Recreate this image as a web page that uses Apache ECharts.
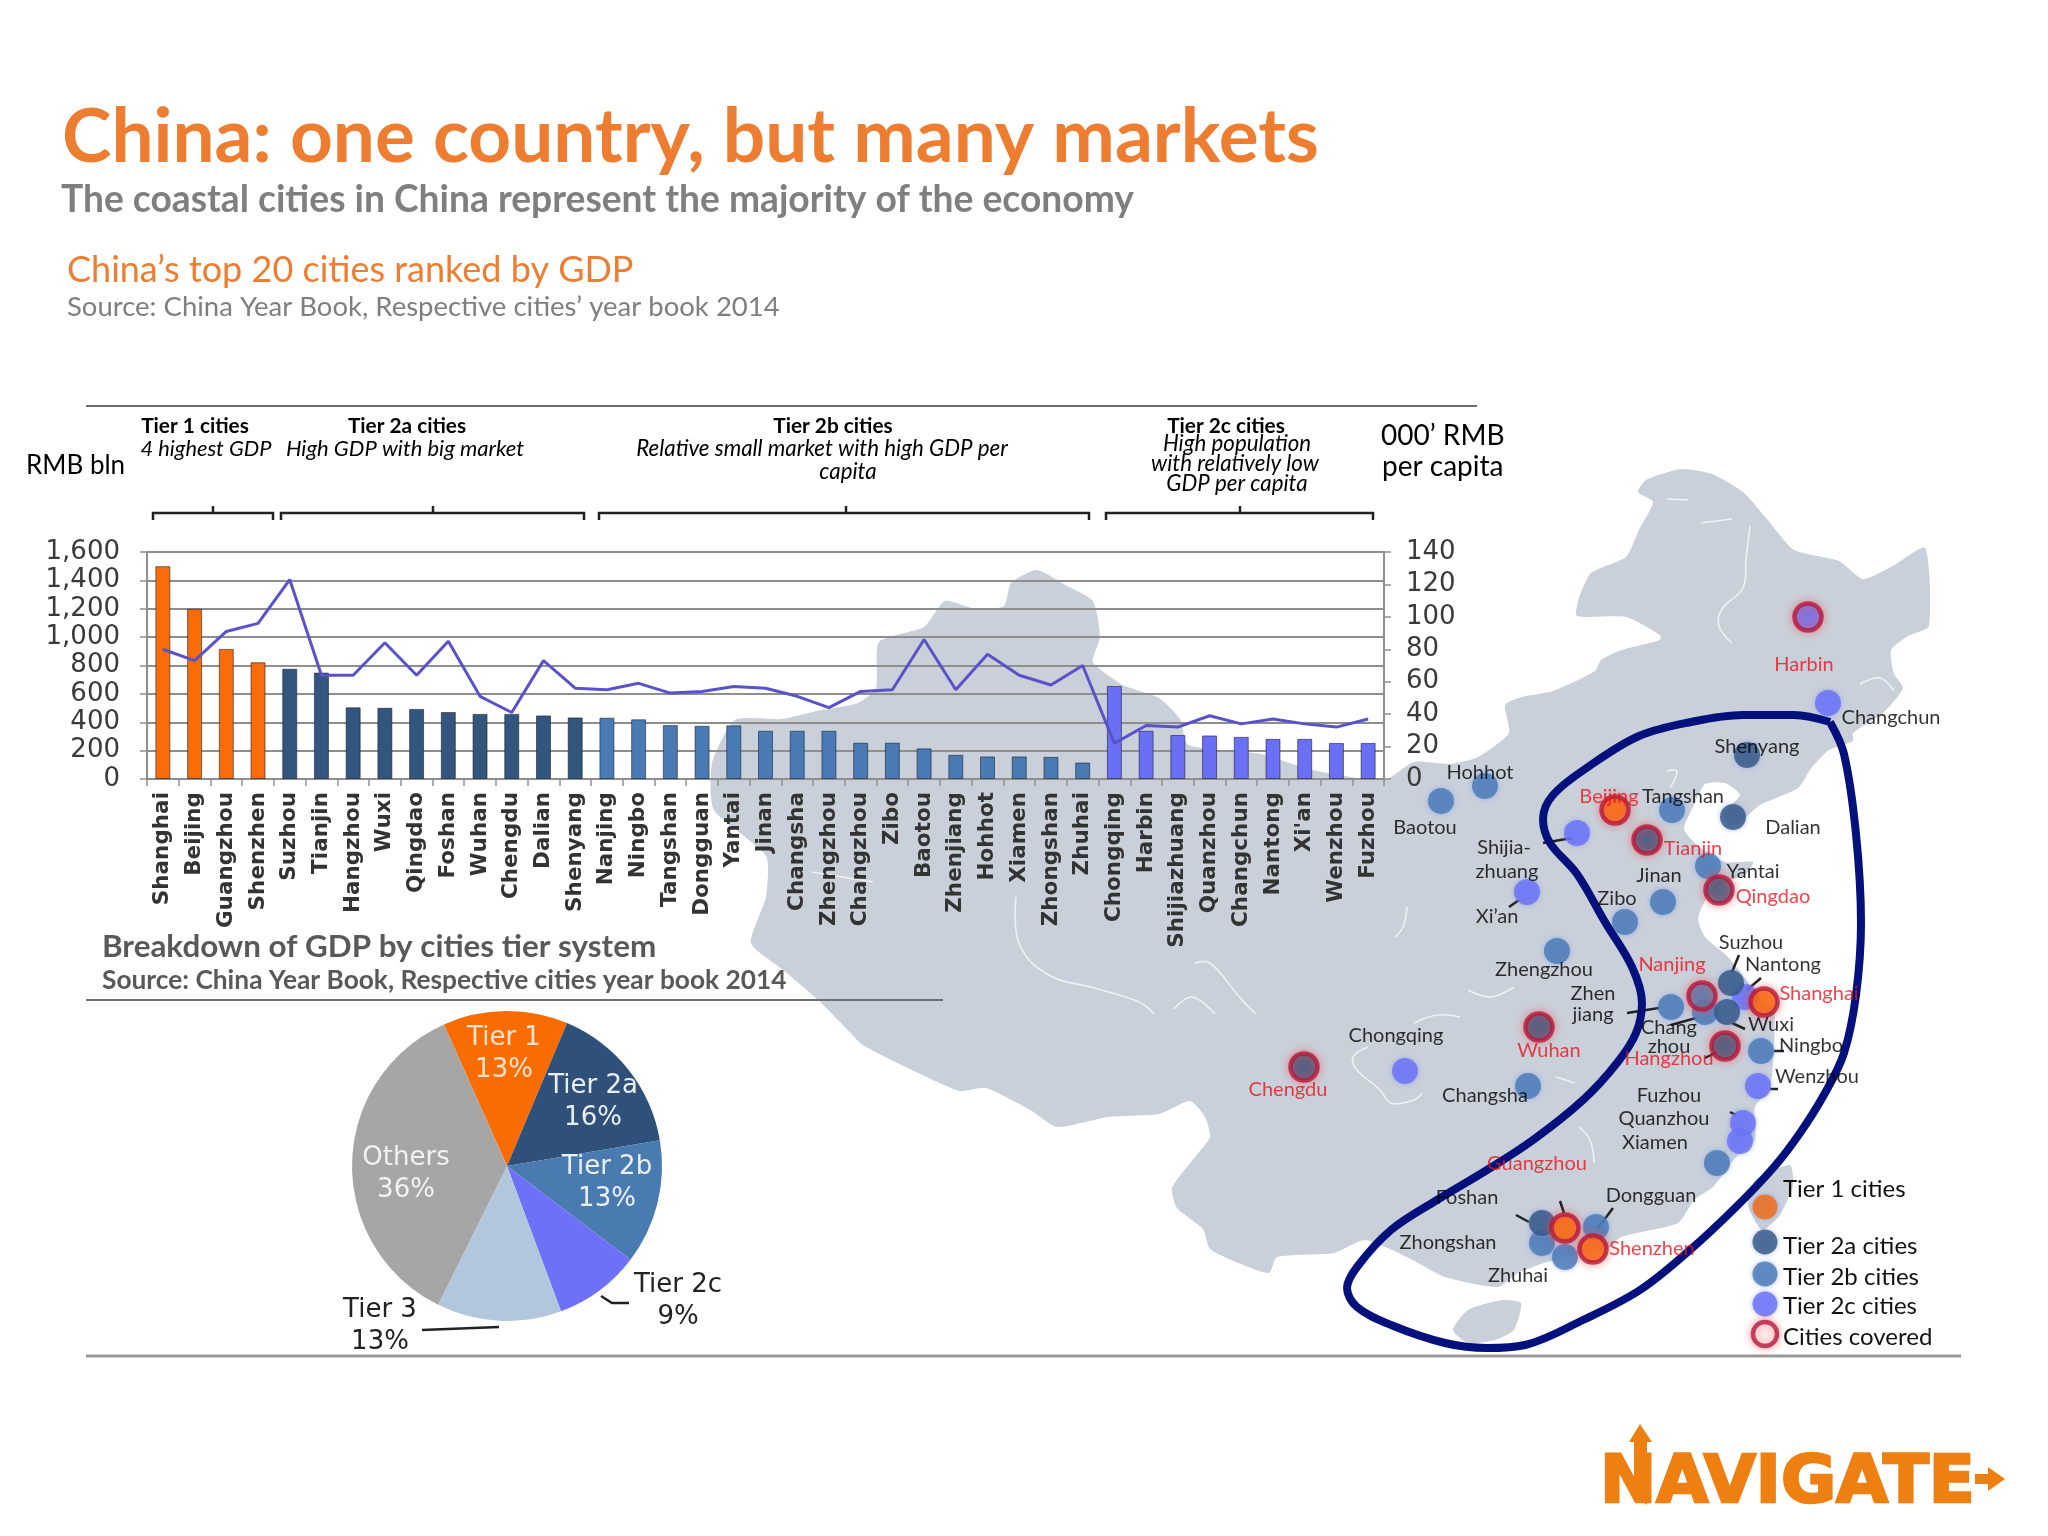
<!DOCTYPE html>
<html>
<head>
<meta charset="utf-8">
<title>China: one country, but many markets</title>
<script src="https://cdn.jsdelivr.net/npm/echarts@6/dist/echarts.min.js"></script>
<style>
  html, body { margin: 0; padding: 0; background: #fff; }
  #chart-container { width: 2048px; height: 1536px; }
</style>
</head>
<body>
<div id="chart-container"></div>
<script>
// Bar + line chart
const cities = ["Shanghai","Beijing","Guangzhou","Shenzhen","Suzhou","Tianjin","Hangzhou","Wuxi","Qingdao","Foshan","Wuhan","Chengdu","Dalian","Shenyang","Nanjing","Ningbo","Tangshan","Dongguan","Yantai","Jinan","Changsha","Zhengzhou","Changzhou","Zibo","Baotou","Zhenjiang","Hohhot","Xiamen","Zhongshan","Zhuhai","Chongqing","Harbin","Shijiazhuang","Quanzhou","Changchun","Nantong","Xi'an","Wenzhou","Fuzhou"];
const gdp = [1500,1200,917,823,777,750,505,502,494,472,459,459,448,434,432,421,380,375,378,340,340,340,256,256,216,170,159,159,156,116,656,340,310,307,297,283,283,254,254];
const gdpPerCapita = [80,73,91,96,123,64,64,84,64,85,51,41,73,56,55,59,53,54,57,56,51,44,54,55,86,55,77,64,58,70,22,33,32,39,34,37,34,32,37];
const barTiers = ["1","1","1","1","2a","2a","2a","2a","2a","2a","2a","2a","2a","2a","2b","2b","2b","2b","2b","2b","2b","2b","2b","2b","2b","2b","2b","2b","2b","2b","2c","2c","2c","2c","2c","2c","2c","2c","2c"];

// Pie chart
const pieNames = ["Tier 1","Tier 2a","Tier 2b","Tier 2c","Tier 3","Others"];
const pieValues = [13,16,13,9,13,36];
const pieColors = ["#f96c02","#2f5079","#4a7bb0","#6e70f8","#b2c6de","#a6a6a6"];
const pieLabelColors = ["#fbe3d0","#e8eef5","#e8f0f8","#222","#222","#f2f2f2"];
const pieLabelPos = [[504,1054],[593,1102],[607,1183],[678,1301],[380,1326],[406,1174]];

const tierColors = { "1": "#f96c08", "2a": "#33567f", "2b": "#4a7ab3", "2c": "#6a70f6" };

// Map cities: name, tier, covered, map x, map y
const mapCities = [
  ["Harbin","2c",1,1808,617],["Changchun","2c",0,1828,703],["Shenyang","2a",0,1747,755],
  ["Hohhot","2b",0,1485,786],["Baotou","2b",0,1441,801],["Beijing","1",1,1615,810],
  ["Tangshan","2b",0,1672,810],["Dalian","2a",0,1733,817],["Shijiazhuang","2c",0,1577,833],
  ["Tianjin","2a",1,1647,840],["Yantai","2b",0,1708,866],["Qingdao","2a",1,1719,890],
  ["Jinan","2b",0,1663,902],["Xi'an","2c",0,1527,892],["Zibo","2b",0,1625,922],
  ["Zhengzhou","2b",0,1557,951],["Nantong","2c",0,1745,997],["Suzhou","2a",0,1731,983],
  ["Changzhou","2b",0,1705,1012],["Nanjing","2b",1,1702,996],["Zhenjiang","2b",0,1671,1007],
  ["Wuxi","2a",0,1727,1012],["Shanghai","1",1,1764,1002],["Hangzhou","2a",1,1725,1046],
  ["Ningbo","2b",0,1761,1051],["Wenzhou","2c",0,1758,1086],["Quanzhou","2c",0,1740,1141],
  ["Fuzhou","2c",0,1743,1123],["Xiamen","2b",0,1717,1163],["Wuhan","2a",1,1539,1027],
  ["Chengdu","2a",1,1304,1067],["Chongqing","2c",0,1405,1071],["Changsha","2b",0,1528,1086],
  ["Zhongshan","2b",0,1542,1243],["Foshan","2a",0,1542,1223],["Dongguan","2b",0,1596,1227],
  ["Zhuhai","2b",0,1565,1257],["Guangzhou","1",1,1565,1228],["Shenzhen","1",1,1593,1249]
];

// Map labels: text, x, y, colour
const mapLabels = [
  ["Harbin",1804,665,"#e8141c"],["Changchun",1891,718,"#000"],["Shenyang",1757,747,"#000"],
  ["Hohhot",1480,773,"#000"],["Baotou",1425,828,"#000"],["Beijing",1609,797,"#e8141c"],
  ["Tangshan",1683,797,"#000"],["Dalian",1793,828,"#000"],["Shijia-",1504,848,"#000"],
  ["zhuang",1507,872,"#000"],["Tianjin",1693,849,"#e8141c"],["Yantai",1753,872,"#000"],
  ["Jinan",1659,876,"#000"],["Qingdao",1773,897,"#e8141c"],["Zibo",1617,899,"#000"],
  ["Xi\u2019an",1497,917,"#000"],["Suzhou",1751,943,"#000"],["Nantong",1783,965,"#000"],
  ["Nanjing",1672,965,"#e8141c"],["Zhengzhou",1544,970,"#000"],["Shanghai",1819,994,"#e8141c"],
  ["Zhen",1593,994,"#000"],["jiang",1593,1015,"#000"],["Chang",1669,1028,"#000"],
  ["zhou",1669,1047,"#000"],["Wuxi",1771,1025,"#000"],["Ningbo",1811,1046,"#000"],
  ["Hangzhou",1669,1059,"#e8141c"],["Wuhan",1549,1051,"#e8141c"],["Chongqing",1396,1036,"#000"],
  ["Wenzhou",1817,1077,"#000"],["Chengdu",1288,1090,"#e8141c"],["Changsha",1485,1096,"#000"],
  ["Fuzhou",1669,1096,"#000"],["Quanzhou",1664,1119,"#000"],["Xiamen",1655,1143,"#000"],
  ["Guangzhou",1537,1164,"#e8141c"],["Foshan",1467,1198,"#000"],["Dongguan",1651,1196,"#000"],
  ["Zhongshan",1448,1243,"#000"],["Shenzhen",1652,1249,"#e8141c"],["Zhuhai",1518,1276,"#000"]
];

// Legend of the map: text, dot x, dot y, label y, tier
const legendRows = [
  ["Tier 1 cities",1765,1207,1189,"1"],["Tier 2a cities",1765,1242,1246,"2a"],
  ["Tier 2b cities",1765,1274,1277,"2b"],["Tier 2c cities",1765,1304,1306,"2c"],
  ["Cities covered",1765,1334,1337,"covered"]
];

// China outline
const chinaOutline = [[1037,570],[1067,586],[1093,601],[1100,637],[1093,662],[1123,685],[1159,698],[1180,719],[1187,744],[1210,749],[1261,754],[1312,770],[1384,780],[1414,762],[1450,764],[1478,757],[1509,733],[1505,705],[1522,697],[1553,691],[1595,671],[1601,660],[1622,650],[1660,640],[1660,635],[1626,617],[1577,616],[1579,598],[1591,573],[1626,557],[1639,530],[1653,502],[1638,492],[1646,480],[1681,469],[1712,474],[1743,492],[1767,519],[1794,550],[1839,561],[1863,579],[1891,567],[1925,548],[1929,626],[1908,636],[1891,650],[1894,674],[1903,688],[1884,712],[1853,733],[1853,741],[1829,750],[1812,767],[1798,788],[1760,805],[1745,818],[1733,825],[1722,815],[1740,795],[1725,783],[1705,784],[1694,805],[1684,829],[1698,846],[1725,862],[1753,862],[1746,874],[1722,884],[1705,901],[1698,919],[1705,937],[1728,957],[1750,985],[1764,1002],[1774,1007],[1774,1047],[1770,1087],[1755,1107],[1755,1140],[1736,1157],[1713,1187],[1694,1200],[1678,1223],[1621,1237],[1606,1250],[1583,1253],[1544,1263],[1518,1273],[1498,1287],[1445,1277],[1407,1257],[1365,1240],[1334,1253],[1277,1257],[1269,1273],[1241,1264],[1210,1249],[1203,1229],[1177,1208],[1172,1188],[1195,1157],[1210,1137],[1205,1117],[1190,1101],[1159,1114],[1108,1117],[1057,1127],[1032,1111],[986,1088],[960,1091],[914,1071],[863,1045],[843,1025],[817,999],[782,969],[751,943],[766,897],[766,856],[714,810],[712,763],[735,720],[782,719],[817,711],[858,703],[876,688],[879,642],[924,627],[945,601],[976,609],[1004,606],[1011,583]];
const hainanOutline = [[1453,1330],[1468,1310],[1502,1300],[1521,1303],[1514,1330],[1495,1340],[1468,1343]];
const taiwanOutline = [[1790,1165],[1793,1185],[1780,1215],[1762,1230],[1748,1205],[1755,1180]];

const rivers = [
  [[1016,897],[1019,943],[1047,974],[1098,989],[1139,1002],[1154,1014]],
  [[812,872],[873,882]],
  [[1195,963],[1210,963],[1241,999],[1256,1014]],
  [[1174,1009],[1192,997],[1215,1014]],
  [[1368,1047],[1353,1057],[1357,1070],[1380,1090],[1391,1103],[1414,1100],[1422,1093]],
  [[1407,907],[1403,927],[1395,937]],
  [[1468,990],[1491,997],[1514,987]],
  [[1414,1023],[1437,1015],[1460,1017]],
  [[1579,1127],[1590,1140],[1594,1163]],
  [[1556,1077],[1575,1083]],
  [[1750,526],[1746,560],[1743,588],[1722,609],[1719,626],[1732,643]],
  [[1667,499],[1688,500]],
  [[1701,523],[1732,519]],
  [[1860,684],[1880,678],[1894,691]],
  [[1667,771],[1677,771],[1670,788]]
];

// The navy loop around the coastal cities
const coastalLoop = [[1830,722],[1794,715],[1743,715],[1691,722],[1639,736],[1588,767],[1553,795],[1543,819],[1550,843],[1577,874],[1605,922],[1632,967],[1642,1003],[1636,1033],[1617,1063],[1583,1100],[1533,1140],[1487,1170],[1437,1200],[1391,1230],[1357,1267],[1347,1288],[1357,1307],[1391,1325],[1445,1343],[1487,1348],[1525,1345],[1583,1320],[1640,1290],[1690,1250],[1736,1207],[1774,1167],[1800,1133],[1825,1093],[1844,1053],[1856,995],[1861,923],[1856,834],[1844,754],[1830,722]];

const leaderLines = [
  [[1543,843],[1572,838]],[[1509,907],[1519,900]],[[1739,955],[1732,972]],[[1761,978],[1747,990]],
  [[1627,1013],[1659,1008]],[[1671,1025],[1696,1018]],[[1732,1023],[1745,1029]],[[1705,1058],[1717,1052]],
  [[1774,1051],[1784,1051]],[[1770,1089],[1778,1089]],[[1730,1112],[1736,1115]],[[1516,1215],[1529,1222]],
  [[1560,1201],[1564,1213]],[[1613,1208],[1598,1228]],
  // pie leaders
  [[601,1296],[612,1303],[629,1303]],[[422,1330],[499,1327]]
];

// Tier brackets above the bars: left, right, middle
const brackets = [[153,273,213],[281,584,433],[599,1089,846],[1106,1373,1240]];

const rules = [
  [[86,406],[1477,406],"#6f6f6f",2],
  [[86,1000],[943,1000],"#6a7078",2],
  [[86,1356],[1961,1356],"#9a9a9a",3]
];

// Text: text, x, y, size, weight, style, colour, align
const textBlocks = [
  ["China: one country, but many markets",62,138,74.7,"bold","normal","#ed7d31","left"],
  ["The coastal cities in China represent the majority of the economy",61,200,37.2,"bold","normal","#7f7f7f","left"],
  ["China\u2019s top 20 cities ranked by GDP",67,270,36,"normal","normal","#ed7d31","left"],
  ["Source: China Year Book, Respective cities\u2019 year book 2014",67,307,27.5,"normal","normal","#7f7f7f","left"],
  ["Tier 1 cities",195,426,20.8,"bold","normal","#000","center"],
  ["4 highest GDP",206,449,21.8,"normal","italic","#000","center"],
  ["Tier 2a cities",407,426,20.8,"bold","normal","#000","center"],
  ["High GDP with big market",405,449,22,"normal","italic","#000","center"],
  ["Tier 2b cities",833,426,20.8,"bold","normal","#000","center"],
  ["Relative small market with high GDP per",822,449,22.3,"normal","italic","#000","center"],
  ["capita",848,472,22.3,"normal","italic","#000","center"],
  ["Tier 2c cities",1226,426,20.8,"bold","normal","#000","center"],
  ["High population",1237,444,22.3,"normal","italic","#000","center"],
  ["with relatively low",1235,464,22.3,"normal","italic","#000","center"],
  ["GDP per capita",1237,484,22.3,"normal","italic","#000","center"],
  ["RMB bln",26,466,26,"normal","normal","#000","left"],
  ["000\u2019 RMB",1381,436,28,"normal","normal","#000","left"],
  ["per capita",1382,467,28,"normal","normal","#000","left"],
  ["Breakdown of GDP by cities tier system",102,947,31.4,"bold","normal","#595959","left"],
  ["Source: China Year Book, Respective cities year book 2014",102,981,26.3,"bold","normal","#595959","left"]
];

let dom = document.getElementById("chart-container");
let myChart = echarts.init(dom, null, { renderer: "canvas", useDirtyRect: false });
let option;

function polySeries(shapes, style, z, smooth) {
  return {
    type: "custom",
    xAxisIndex: 1,
    yAxisIndex: 2,
    z: z,
    silent: true,
    clip: false,
    data: shapes.map((s, i) => [i, 0]),
    renderItem: (params, api) => ({
      type: style.fill ? "polygon" : "polyline",
      shape: { points: shapes[params.dataIndex].map((p) => api.coord(p)), smooth: smooth || 0 },
      style: style,
    }),
  };
}

function dotStyle(tier, covered) {
  if (covered) {
    return {
      color: tier === "covered" ? "#fff" : tierColors[tier],
      borderColor: "#b3193c",
      borderWidth: 4.5,
      shadowBlur: 8,
      shadowColor: "rgba(255,70,70,0.6)",
    };
  }
  return { color: tierColors[tier], shadowBlur: 5, shadowColor: "rgba(110,140,240,0.7)" };
}

const graphicText = textBlocks.map((t) => ({
  type: "text",
  z: 50,
  silent: true,
  style: {
    text: t[0],
    x: t[1],
    y: t[2],
    font: t[5] + " " + t[4] + " " + t[3] + "px Lato",
    fill: t[6],
    textAlign: t[7],
    textVerticalAlign: "middle",
  },
}));

const legendText = legendRows.map((r) => ({
  type: "text",
  z: 50,
  silent: true,
  style: {
    text: r[0],
    x: 1783,
    y: r[3],
    font: "24px Lato",
    fill: "#111",
    textVerticalAlign: "middle",
  },
}));

const logo = [
  {
    type: "text",
    z: 50,
    silent: true,
    x: 1600,
    y: 1485,
    scaleX: 1.035,
    style: {
      text: "NAVIGATE",
      x: 0,
      y: 0,
      font: "bold 65px 'DejaVu Sans'",
      fill: "#ee7f11",
      stroke: "#ee7f11",
      lineWidth: 2.5,
      textVerticalAlign: "middle",
    },
  },
  { type: "polygon", z: 50, silent: true, style: { fill: "#ee7f11" }, shape: { points: [[1634,1490],[1634,1442],[1629,1442],[1640,1424],[1652,1442],[1647,1442],[1647,1505],[1640,1500]] } },
  { type: "polygon", z: 50, silent: true, style: { fill: "#ee7f11" }, shape: { points: [[1975,1474],[1988,1474],[1988,1467],[2005,1479],[1988,1491],[1988,1484],[1975,1484]] } },
];

option = {
  backgroundColor: "#fff",
  animation: false,
  graphic: { elements: graphicText.concat(legendText, logo) },
  grid: [
    { left: 147, top: 552, width: 1237, height: 227 },
    { left: 0, top: 0, width: 2048, height: 1536 },
  ],
  xAxis: [
    {
      type: "category",
      data: cities,
      gridIndex: 0,
      axisLine: { lineStyle: { color: "#8e8e8e", width: 2 } },
      axisTick: { show: true, length: 7, lineStyle: { color: "#8e8e8e", width: 1.5 } },
      axisLabel: {
        interval: 0,
        rotate: 90,
        margin: 13,
        padding: [7, 0, 0, 0],
        fontFamily: "DejaVu Sans",
        fontWeight: "bold",
        fontSize: 21.5,
        color: "#333",
      },
      splitLine: { show: false },
    },
    { type: "value", gridIndex: 1, min: 0, max: 2048, show: false },
  ],
  yAxis: [
    {
      type: "value",
      gridIndex: 0,
      min: 0,
      max: 1600,
      interval: 200,
      axisLine: { show: true, lineStyle: { color: "#8e8e8e", width: 2 } },
      axisTick: { show: true, length: 7, lineStyle: { color: "#8e8e8e", width: 1.5 } },
      axisLabel: {
        margin: 27,
        fontFamily: "DejaVu Sans",
        fontSize: 26,
        color: "#3a3a3a",
        formatter: (v) => v.toLocaleString("en-US"),
      },
      splitLine: { show: true, lineStyle: { color: "#8e8e8e", width: 2 } },
    },
    {
      type: "value",
      gridIndex: 0,
      position: "right",
      min: 0,
      max: 140,
      interval: 20,
      axisLine: { show: true, lineStyle: { color: "#8e8e8e", width: 2 } },
      axisTick: { show: true, length: 7, lineStyle: { color: "#8e8e8e", width: 1.5 } },
      axisLabel: { margin: 22, fontFamily: "DejaVu Sans", fontSize: 26, color: "#3a3a3a" },
      splitLine: { show: false },
    },
    { type: "value", gridIndex: 1, min: 0, max: 1536, inverse: true, show: false },
  ],
  series: [
    // Map underlay
    polySeries([chinaOutline, hainanOutline, taiwanOutline], { fill: "#c9d0da" }, -2, 0.2),
    polySeries(rivers, { stroke: "rgba(255,255,255,0.7)", lineWidth: 1.6, fill: null }, -1, 0.4),
    // Bars
    {
      name: "GDP",
      type: "bar",
      xAxisIndex: 0,
      yAxisIndex: 0,
      barWidth: 15,
      z: 3,
      data: gdp.map((v, i) => ({
        value: v,
        itemStyle: {
          color: tierColors[barTiers[i]],
          borderColor: "rgba(20,20,40,0.55)",
          borderWidth: 1,
        },
      })),
    },
    // GDP per capita
    {
      name: "GDP per capita",
      type: "line",
      xAxisIndex: 0,
      yAxisIndex: 1,
      z: 4,
      symbol: "none",
      lineStyle: { color: "#5a52c8", width: 3 },
      data: gdpPerCapita,
    },
    // Rules, brackets, leaders
    polySeries(rules.map((r) => [r[0], r[1]]).slice(0, 1), { stroke: rules[0][2], lineWidth: rules[0][3], fill: null }, 5),
    polySeries(rules.map((r) => [r[0], r[1]]).slice(1, 2), { stroke: rules[1][2], lineWidth: rules[1][3], fill: null }, 5),
    polySeries(rules.map((r) => [r[0], r[1]]).slice(2, 3), { stroke: rules[2][2], lineWidth: rules[2][3], fill: null }, 5),
    polySeries(
      brackets.map((b) => [[b[0], 520], [b[0], 513], [b[2], 513], [b[2], 506], [b[2], 513], [b[1], 513], [b[1], 520]]),
      { stroke: "#222", lineWidth: 2.5, fill: null },
      5
    ),
    polySeries(leaderLines, { stroke: "#222", lineWidth: 2.5, fill: null }, 5),
    // City dots
    {
      type: "scatter",
      xAxisIndex: 1,
      yAxisIndex: 2,
      z: 6,
      silent: true,
      data: mapCities.map((c) => ({
        value: [c[3], c[4]],
        symbolSize: c[2] ? 27 : 26,
        itemStyle: dotStyle(c[1], c[2]),
      })),
    },
    // Coastal loop
    {
      type: "line",
      xAxisIndex: 1,
      yAxisIndex: 2,
      z: 7,
      silent: true,
      symbol: "none",
      smooth: 0.35,
      lineStyle: { color: "#04107c", width: 8 },
      data: coastalLoop,
    },
    // Map legend dots
    {
      type: "scatter",
      xAxisIndex: 1,
      yAxisIndex: 2,
      z: 8,
      silent: true,
      data: legendRows.map((r) => ({
        value: [r[1], r[2]],
        symbolSize: r[4] === "covered" ? 24 : 25,
        itemStyle: dotStyle(r[4], r[4] === "covered"),
      })),
    },
    // Map labels
    {
      type: "scatter",
      xAxisIndex: 1,
      yAxisIndex: 2,
      z: 9,
      silent: true,
      symbolSize: 1,
      itemStyle: { color: "transparent" },
      data: mapLabels.map((l) => ({
        value: [l[1], l[2]],
        name: l[0],
        label: { color: l[3] },
      })),
      label: {
        show: true,
        position: "inside",
        formatter: "{b}",
        fontFamily: "Lato",
        fontSize: 20,
      },
    },
    // Pie
    {
      type: "pie",
      center: [507, 1166],
      radius: [0, 155],
      startAngle: 114,
      z: 5,
      silent: true,
      label: {
        position: "inside",
        formatter: "{b}\n{d}%",
        fontFamily: "DejaVu Sans",
        fontSize: 26,
        lineHeight: 32,
      },
      labelLine: { show: false },
      labelLayout: (params) => ({
        x: pieLabelPos[params.dataIndex][0],
        y: pieLabelPos[params.dataIndex][1],
        align: "center",
        verticalAlign: "middle",
      }),
      data: pieNames.map((n, i) => ({
        name: n,
        value: pieValues[i],
        itemStyle: { color: pieColors[i] },
        label: { color: pieLabelColors[i] },
      })),
    },
  ],
};

if (option && typeof option === "object") {
  myChart.setOption(option);
}

window.addEventListener("resize", myChart.resize);
</script>
</body>
</html>
